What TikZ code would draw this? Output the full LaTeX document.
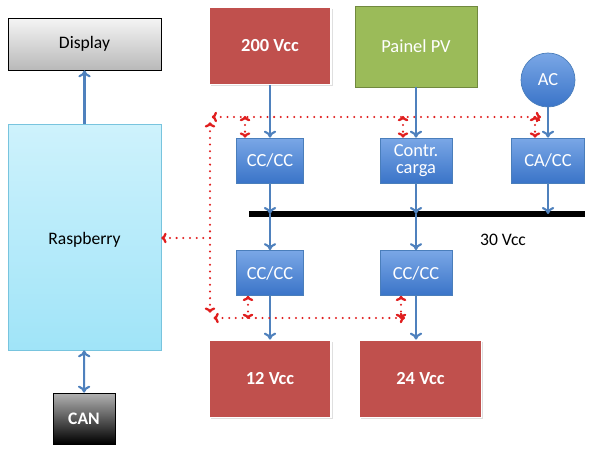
\documentclass[tikz,border=0pt]{standalone}
\usepackage{fontspec}
\setmainfont{Carlito}
\usetikzlibrary{arrows.meta, positioning, shadows}
\definecolor{vccred}{RGB}{192,80,77}
\definecolor{pvgreen}{RGB}{155,187,89}
\definecolor{pvborder}{RGB}{113,137,63}
\definecolor{convtop}{RGB}{122,167,230}
\definecolor{convbot}{RGB}{58,116,200}
\definecolor{convborder}{RGB}{74,126,187}
\definecolor{rpitop}{RGB}{206,242,252}
\definecolor{rpibot}{RGB}{160,228,248}
\definecolor{rpiborder}{RGB}{120,196,222}
\definecolor{flowblue}{RGB}{79,129,189}
\definecolor{ctrlred}{RGB}{224,30,30}

\tikzset{
  pwrbox/.style={rectangle, draw=white, line width=1pt, fill=vccred, text=white, font=\fontsize{10.5}{12}\selectfont\bfseries,
    minimum width=2.44cm, minimum height=1.54cm, drop shadow={shadow xshift=1pt, shadow yshift=-1pt, opacity=0.25}},
  convbox/.style={rectangle, draw=convborder, top color=convtop, bottom color=convbot, text=white,
    font=\fontsize{10.5}{12}\selectfont, align=center, minimum width=1.34cm, minimum height=0.9cm, inner sep=1pt},
  flow/.style={-{To[length=4pt,width=7pt]}, draw=flowblue, line width=1.2pt},
  ctrl/.style={{To[length=3pt,width=6pt]}-{To[length=3pt,width=6pt]}, draw=ctrlred, line width=1.3pt,
    line cap=round, dash pattern=on 0pt off 3.8pt},
  ctrlone/.style={-{To[length=3pt,width=6pt]}, draw=ctrlred, line width=1.3pt,
    line cap=round, dash pattern=on 0pt off 3.8pt},
}

\begin{document}
\begin{tikzpicture}[x=0.02cm, y=-0.02cm]
\useasboundingbox (0,0) rectangle (598,452);

% left side
\node[rectangle, draw=black, top color=gray!8, bottom color=gray!55, minimum width=3.06cm, minimum height=1.04cm] (display) at (84.5,44) {Display};
\node[rectangle, draw=rpiborder, top color=rpitop, bottom color=rpibot, minimum width=3.06cm, minimum height=4.52cm] (rpi) at (84.5,237) {};
\node (rpitext) at (84.5,240) {Raspberry};
\node[rectangle, draw=black, top color=gray!60, bottom color=black, text=white, font=\bfseries, minimum width=1.24cm, minimum height=1.02cm] (can) at (84,418.5) {CAN};

% sources
\node[pwrbox] (vcc200) at (270,46) {200 Vcc};
\node[rectangle, draw=pvborder, fill=pvgreen, text=white, font=\fontsize{10.5}{12}\selectfont, minimum width=2.44cm, minimum height=1.62cm] (painel) at (416,46.5) {Painel PV};
\node[circle, draw=convborder, top color=convtop, bottom color=convbot, text=white, font=\fontsize{10.5}{12}\selectfont, minimum size=1.08cm, inner sep=0pt] (ac) at (548,80) {AC};

% converters
\node[convbox] (ccA) at (270,160.5) {CC/CC};
\node[convbox, minimum width=1.44cm] (contr) at (416,160.5) {Contr.\\[-2pt]carga};
\node[convbox, minimum width=1.46cm] (cacc) at (548,160.5) {CA/CC};
\node[convbox] (ccB) at (270,273) {CC/CC};
\node[convbox, minimum width=1.44cm] (ccC) at (416,273) {CC/CC};

% loads
\node[pwrbox] (vcc12) at (270,379) {12 Vcc};
\node[pwrbox] (vcc24) at (420.5,379) {24 Vcc};

% bus
\coordinate (busL) at (249,214);
\coordinate (busR) at (585,214);
\draw[line width=3.4pt] (busL) -- (busR);
\node (bus30) at (503,240) {30 Vcc};

% power flow
\draw[flow] (rpi) -- (display);
\draw[flow, {To[length=4pt,width=7pt]}-{To[length=4pt,width=7pt]}] (can) -- (rpi);
\draw[flow] (vcc200) -- (ccA);
\draw[flow] (painel) -- (contr);
\draw[flow] (ac) -- (cacc);
\draw[flow] (ccA.south) -- (ccA.south |- busL);
\draw[flow] (contr.south) -- (contr.south |- busL);
\draw[flow] (cacc.south) -- (cacc.south |- busL);
\draw[flow] (ccA.south |- busL) -- (ccB.north);
\draw[flow] (contr.south |- busL) -- (ccC.north);
\draw[flow] (ccB) -- (vcc12);
\draw[flow] (ccC.south) -- (ccC.south |- vcc24.north);

% control lines
\coordinate (ctl) at (210,117);
\coordinate (ctr) at (541,117);
\coordinate (cbl) at (210,318);
\coordinate (cbr) at (405,318);
\coordinate (cml) at (210,238);
\coordinate (tapA) at (245,116);
\coordinate (tapB) at (403,116);
\coordinate (tapC) at (535,116);
\coordinate (tapD) at (248,319);
\coordinate (tapE) at (401,319);
\draw[ctrl] ([xshift=1pt]ctl) -- (ctr);
\draw[ctrl] ([yshift=-3pt]ctl) -- ([yshift=3pt]cbl);
\draw[ctrl] ([xshift=2pt]cbl) -- (cbr);
\draw[ctrlone] (cml) -- (rpi.east |- cml);
\draw[ctrl] (tapA) -- (tapA |- ccA.north);
\draw[ctrl] (tapB) -- (tapB |- contr.north);
\draw[ctrl] (tapC) -- (tapC |- cacc.north);
\draw[ctrl] (tapD |- ccB.south) -- (tapD);
\draw[ctrl] (tapE |- ccC.south) -- (tapE);
\end{tikzpicture}
\end{document}
